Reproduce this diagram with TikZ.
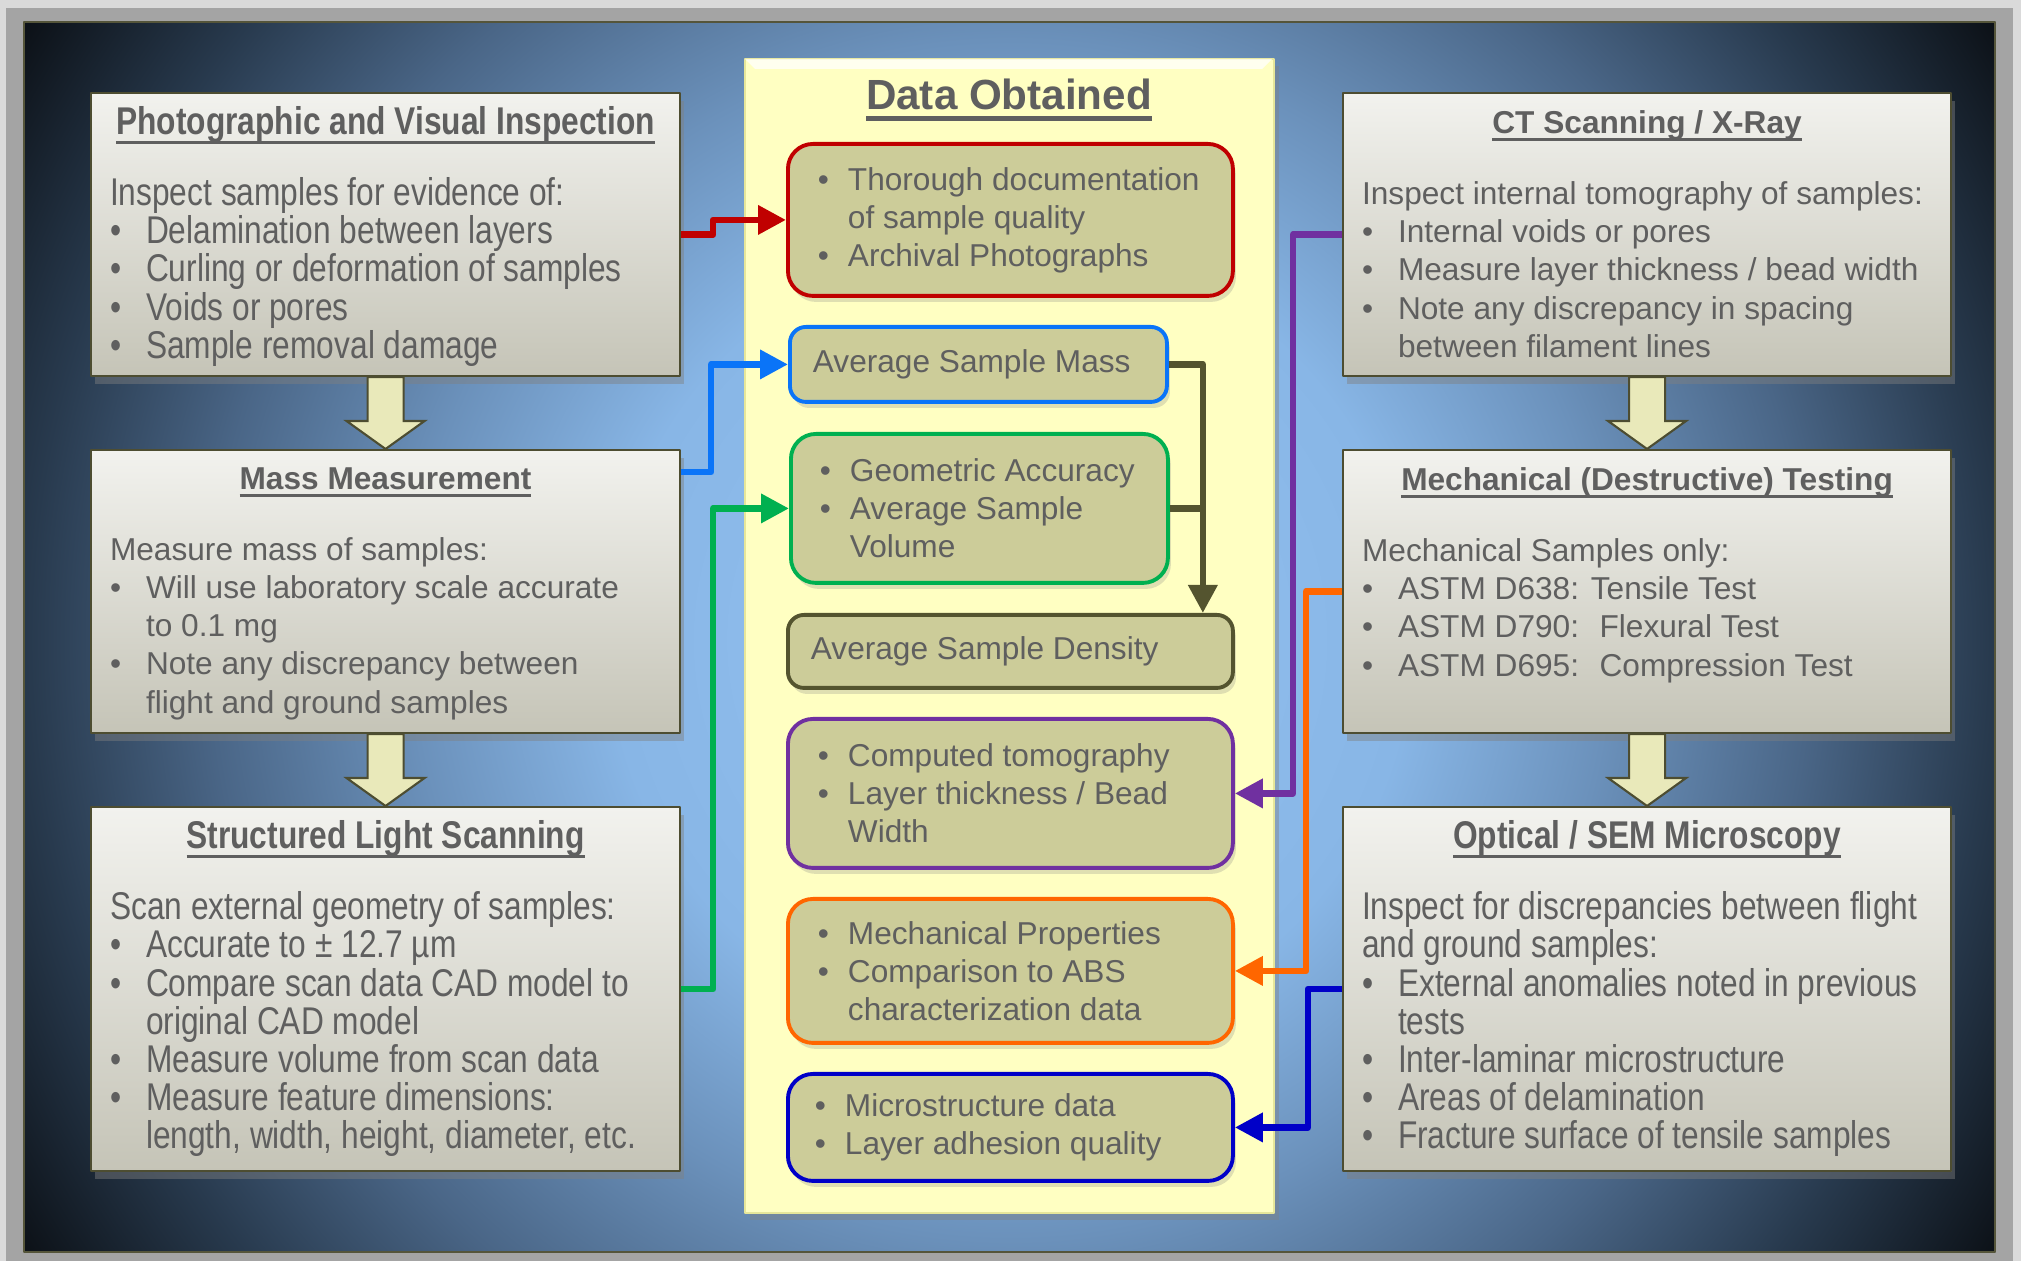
\documentclass[tikz,border=0pt]{standalone}
\usepackage{fontspec}
\setmainfont{Liberation Sans}
\newfontfamily\narrowfont{Liberation Sans}[FakeStretch=0.82]
\usetikzlibrary{arrows.meta,calc,shadows}

\definecolor{framelight}{HTML}{DADADA}
\definecolor{framegray}{HTML}{A4A4A4}
\definecolor{frameline}{HTML}{55553A}
\definecolor{bgA}{HTML}{94C2F2}
\definecolor{bgB}{HTML}{88B6E6}
\definecolor{bgC}{HTML}{6B91BB}
\definecolor{bgD}{HTML}{4A6687}
\definecolor{bgE}{HTML}{283A4E}
\definecolor{bgF}{HTML}{0C1117}
\definecolor{txtgray}{HTML}{5F5F5F}
\definecolor{boxtop}{HTML}{F2F2EE}
\definecolor{boxbot}{HTML}{C5C4B7}
\definecolor{boxline}{HTML}{4D4D31}
\definecolor{arrowfill}{HTML}{E9E9BA}
\definecolor{panelfill}{HTML}{FFFFC2}
\definecolor{paneledge}{HTML}{E6E69A}
\definecolor{khaki}{HTML}{CCCC99}
\definecolor{redc}{HTML}{C00000}
\definecolor{bluec}{HTML}{0A74F8}
\definecolor{greenc}{HTML}{00B050}
\definecolor{olivec}{HTML}{54542F}
\definecolor{purplec}{HTML}{7030A0}
\definecolor{orangec}{HTML}{FF6600}
\definecolor{navyc}{HTML}{0000C8}

\pgfdeclareradialshading{panelshade}{\pgfpoint{0bp}{0bp}}{color(0bp)=(bgA); color(10bp)=(bgB); color(15bp)=(bgC); color(20bp)=(bgD); color(24.5bp)=(bgE); color(29bp)=(bgF); color(50bp)=(bgF)}

\newcommand{\uln}[2][0.9pt]{\setbox0\hbox{#2}\leavevmode\rlap{\rule[-0.25em]{\wd0}{#1}}\box0}
\newcommand{\bitem}{\par\hangindent=3.6mm\hangafter=1\noindent\makebox[3.6mm][l]{\textbullet}}
\newcommand{\ditem}{\par\hangindent=3.0mm\hangafter=1\noindent\makebox[3.0mm][l]{\textbullet}}
\newcommand{\narrowtext}{\narrowfont\fontsize{11}{10.85}\selectfont\lineskiplimit=-\maxdimen\raggedright\leftskip=1.9mm\relax\vspace*{1.35mm}}
\newcommand{\plaintext}{\fontsize{9}{10.85}\selectfont\lineskiplimit=-\maxdimen\raggedright\leftskip=1.9mm\relax\vspace*{1.75mm}}
\newcommand{\datatext}[1]{\fontsize{9}{10.8}\selectfont\lineskiplimit=-\maxdimen\raggedright\leftskip=#1\relax}
\newcommand{\boxtitle}[1]{{\centering\bfseries\uln{#1}\par}\vspace{9.4pt}}

\tikzset{
  gbox/.style={draw=boxline, line width=0.6pt, top color=boxtop, bottom color=boxbot,
    inner sep=0pt, anchor=north west, text=txtgray,
    drop shadow={shadow xshift=0.4mm, shadow yshift=-0.8mm, opacity=0.45}},
  dbox/.style={draw=#1, line width=1.1pt, fill=khaki, rounded corners=2.5mm,
    inner sep=0pt, anchor=north west, text=txtgray,
    drop shadow={shadow xshift=0.3mm, shadow yshift=-0.6mm, opacity=0.25}},
  conn/.style={draw=#1, line width=1.9pt, -{Triangle[length=2.8mm,width=2.8mm]}},
  barrow/.style={draw=boxline, line width=0.6pt, fill=arrowfill, line join=miter},
}

\begin{document}
\begin{tikzpicture}[x=0.1mm, y=-0.1mm, line join=round]
  \useasboundingbox (0,0) rectangle (2021,1261);
  \fill[framelight] (0,0) rectangle (2021,1261);
  \fill[framegray] (6,8) rectangle (2013,1261);
  \begin{scope}
    \clip (24,22) rectangle (1995,1252);
    \shade[shading=panelshade] (10,-360) rectangle (2010,1640);
  \end{scope}
  \draw[frameline, line width=0.5pt] (24,22) rectangle (1995,1252);

  \node[fill=panelfill, draw=paneledge, line width=0.6pt, inner sep=0pt, anchor=north west,
    minimum width=52.9mm, minimum height=115.4mm,
    drop shadow={shadow xshift=0.5mm, shadow yshift=-0.7mm, opacity=0.4}] (datapanel) at (744,58) {};
  \fill[white, opacity=0.75] (745,59) -- (1272,59) -- (1262,69) -- (755,69) -- cycle;
  \node[text=txtgray, font=\fontsize{12}{14}\selectfont\bfseries] (datatitle) at (1009,100)
    {\uln[1.2pt]{Data Obtained}};

  \node[dbox=redc, minimum width=44.5mm, minimum height=15.2mm] (photodata) at (786,142)
    {\parbox{44.5mm}{\datatext{3.0mm}
      \ditem Thorough documentation\newline of sample quality
      \ditem Archival Photographs}};
  \node[dbox=bluec, minimum width=37.7mm, minimum height=7.5mm, rounded corners=1.6mm] (massdata) at (788,325)
    {\parbox{37.7mm}{\datatext{2.3mm}Average Sample Mass}};
  \node[dbox=greenc, minimum width=37.7mm, minimum height=14.9mm] (geodata) at (789,432)
    {\parbox{37.7mm}{\datatext{2.9mm}
      \ditem Geometric Accuracy
      \ditem Average Sample\newline Volume}};
  \node[dbox=olivec, minimum width=44.5mm, minimum height=7.3mm, rounded corners=1.6mm] (densdata) at (786,613)
    {\parbox{44.5mm}{\datatext{2.3mm}Average Sample Density}};
  \node[dbox=purplec, minimum width=44.5mm, minimum height=14.9mm] (ctdata) at (786,717)
    {\parbox{44.5mm}{\datatext{3.0mm}
      \ditem Computed tomography
      \ditem Layer thickness / Bead\newline Width}};
  \node[dbox=orangec, minimum width=44.5mm, minimum height=14.4mm] (mechdata) at (786,897)
    {\parbox{44.5mm}{\datatext{3.0mm}
      \ditem Mechanical Properties
      \ditem Comparison to ABS\newline characterization data}};
  \node[dbox=navyc, minimum width=44.5mm, minimum height=10.7mm] (microdata) at (786,1072)
    {\parbox{44.5mm}{\datatext{2.7mm}
      \ditem Microstructure data
      \ditem Layer adhesion quality}};

  \node[gbox] (photo) at (90,92) {\parbox[c][28.3mm][t]{58.9mm}{\narrowtext
    \boxtitle{Photographic and Visual Inspection}
    Inspect samples for evidence of:
    \bitem Delamination between layers
    \bitem Curling or deformation of samples
    \bitem Voids or pores
    \bitem Sample removal damage}};
  \node[gbox] (mass) at (90,449) {\parbox[c][28.3mm][t]{58.9mm}{\plaintext
    \boxtitle{Mass Measurement}
    Measure mass of samples:
    \bitem Will use laboratory scale accurate\newline to 0.1 mg
    \bitem Note any discrepancy between\newline flight and ground samples}};
  \node[gbox] (scan) at (90,806) {\parbox[c][36.4mm][t]{58.9mm}{\narrowtext
    \boxtitle{Structured Light Scanning}
    Scan external geometry of samples:
    \bitem Accurate to ± 12.7 µm
    \bitem Compare scan data CAD model to\newline original CAD model
    \bitem Measure volume from scan data
    \bitem Measure feature dimensions:\newline length, width, height, diameter, etc.}};
  \node[gbox] (ct) at (1342,92) {\parbox[c][28.3mm][t]{60.8mm}{\plaintext
    \boxtitle{CT Scanning / X-Ray}
    Inspect internal tomography of samples:
    \bitem Internal voids or pores
    \bitem Measure layer thickness / bead width
    \bitem Note any discrepancy in spacing\newline between filament lines}};
  \node[gbox] (mech) at (1342,449) {\parbox[c][28.3mm][t]{60.8mm}{\plaintext
    \boxtitle{Mechanical (Destructive) Testing}
    Mechanical Samples only:
    \bitem ASTM D638: Tensile Test
    \bitem ASTM D790:~ Flexural Test
    \bitem ASTM D695:~ Compression Test}};
  \node[gbox] (optic) at (1342,806) {\parbox[c][36.4mm][t]{60.8mm}{\narrowtext
    \boxtitle{Optical / SEM Microscopy}
    Inspect for discrepancies between flight\newline and ground samples:
    \bitem External anomalies noted in previous\newline tests
    \bitem Inter-laminar microstructure
    \bitem Areas of delamination
    \bitem Fracture surface of tensile samples}};

  \foreach \a/\b in {photo/mass, mass/scan, ct/mech, mech/optic}
    \filldraw[barrow] ($(\a.south)+(-18,0)$) -- ($(\b.north)+(-18,-28)$) -- ($(\b.north)+(-39,-28)$)
      -- (\b.north) -- ($(\b.north)+(39,-28)$) -- ($(\b.north)+(18,-28)$) -- ($(\a.south)+(18,0)$) -- cycle;

  \coordinate (densin) at ($(densdata.north east)+(-32,0)$);

  \draw[conn=redc] (photo.east) -- ++(32,0) |- (photodata.west);
  \draw[conn=bluec] ($(mass.north east)+(0,23)$) -- ++(30,0) |- (massdata.west);
  \draw[conn=greenc] (scan.east) -- ++(32,0) |- (geodata.west);
  \draw[conn=olivec] (massdata.east) -| (densin);
  \draw[olivec, line width=1.9pt] (geodata.east) -- (geodata.east -| densin);
  \draw[conn=purplec] (ct.west) -- ++(-49,0) |- (ctdata.east);
  \draw[conn=orangec] (mech.west) -- ++(-36,0) |- (mechdata.east);
  \draw[conn=navyc] (optic.west) -- ++(-34,0) |- (microdata.east);
\end{tikzpicture}
\end{document}
